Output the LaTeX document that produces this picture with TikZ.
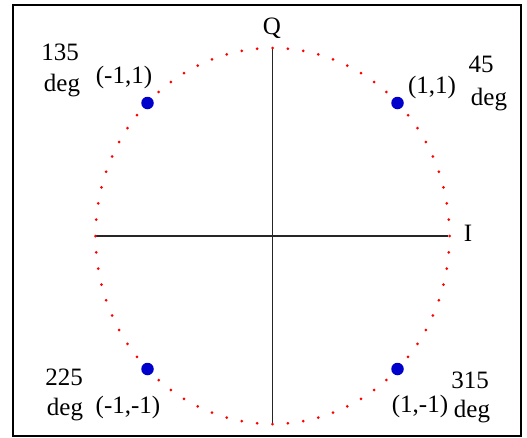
\documentclass[tikz,border=0pt]{standalone}
\usepackage{fontspec}
\setmainfont{Liberation Serif}
\usetikzlibrary{calc}
\begin{document}
\begin{tikzpicture}[x=1pt,y=-1pt,
  lbl/.style={font=\fontsize{25}{30}\selectfont, anchor=base, inner sep=0pt},
  sym/.style={circle, fill=symblue, draw=none, minimum size=12.5pt, inner sep=0pt},
  rdot/.style={fill=red, draw=none},
  axis/.style={draw=black!85, line width=1.6pt}]
\definecolor{symblue}{RGB}{0,0,205}
\useasboundingbox (0,0) rectangle (527,437);
\draw[line width=2pt] (12.5,5) rectangle (521,435.5);
% axes
\coordinate (c) at (272.5,236);
\coordinate (qtop) at (272.5,49);
\coordinate (qbot) at (272.5,424);
\coordinate (ileft) at (96,236);
\coordinate (iright) at (448,236);
\draw[axis] (qtop) -- (qbot);
\draw[axis] (ileft) -- (iright);
% red dotted ellipse
\foreach \a in {0,5,...,355}{
  \fill[rdot] ($(c)+({177*cos(\a)},{-188*sin(\a)})$) circle (1.5pt);
}
% symbols
\node[sym] (s1) at (397.5,103) {};
\node[sym] (s2) at (147.5,103) {};
\node[sym] (s3) at (147.5,369) {};
\node[sym] (s4) at (397.5,369) {};
% axis labels
\node[lbl] (Q) at (272,34) {Q};
\node[lbl] (I) at (468,241) {I};
% angle labels
\node[lbl] (a135) at (60,60) {135};
\node[lbl] (d135) at (62,91) {deg};
\node[lbl] (p135) at (124,83) {(-1,1)};
\node[lbl] (a45) at (481,72) {45};
\node[lbl] (d45) at (489,105) {deg};
\node[lbl] (p45) at (432,93) {(1,1)};
\node[lbl] (a225) at (64,385) {225};
\node[lbl] (d225) at (65,415) {deg};
\node[lbl] (p225) at (128,413) {(-1,-1)};
\node[lbl] (a315) at (470,388) {315};
\node[lbl] (d315) at (472,417) {deg};
\node[lbl] (p315) at (420,412) {(1,-1)};
\end{tikzpicture}
\end{document}
